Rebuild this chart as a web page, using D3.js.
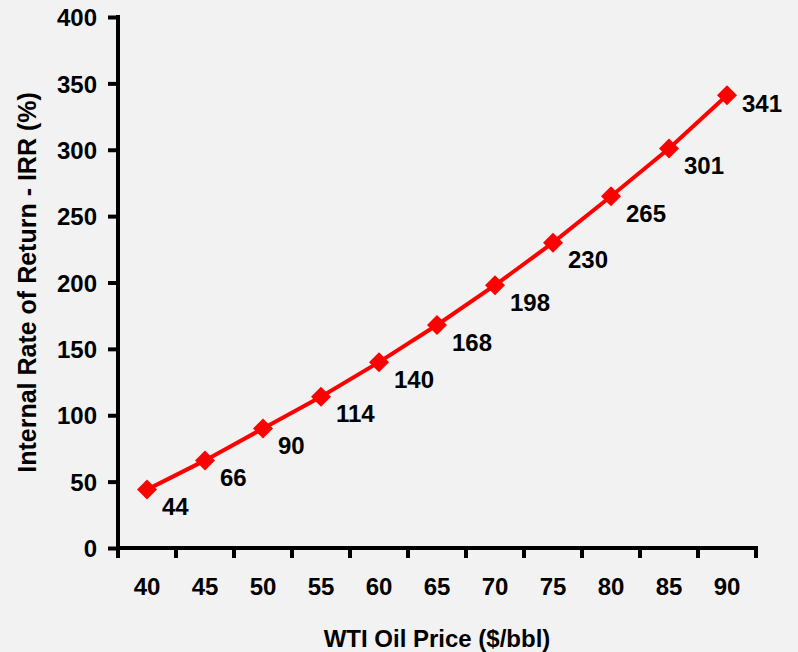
<!DOCTYPE html>
<html>
<head>
<meta charset="utf-8">
<script src="https://cdn.jsdelivr.net/npm/d3@7"></script>
<style>
  html, body { margin: 0; padding: 0; background: #f2f2f2; }
  svg { display: block; }
  text { font-family: "Liberation Sans", Arial, sans-serif; font-weight: bold; fill: #000; }
</style>
</head>
<body>
<svg id="chart" width="798" height="652"></svg>
<script>
const prices = ["40", "45", "50", "55", "60", "65", "70", "75", "80", "85", "90"];
const irr = [44, 66, 90, 114, 140, 168, 198, 230, 265, 301, 341];
const yTicks = [0, 50, 100, 150, 200, 250, 300, 350, 400];
const xTitle = "WTI Oil Price ($/bbl)";
const yTitle = "Internal Rate of Return - IRR (%)";

const W = 798, H = 652;
const margin = { left: 118, right: 42, top: 17, bottom: 104 };
const svg = d3.select("#chart");
const bg = svg.append("rect").attr("width", W).attr("height", H).attr("fill", "#f2f2f2");

const x = d3.scaleBand().domain(prices).range([margin.left, W - margin.right]).padding(0);
const y = d3.scaleLinear().domain([0, 400]).range([H - margin.bottom, margin.top]);

const data = prices.map((p, i) => ({ p, v: irr[i] }));

// Y axis
const yAxis = svg.append("g")
  .attr("transform", `translate(${margin.left},0)`)
  .call(d3.axisLeft(y).tickValues(yTicks).tickSize(10).tickPadding(11).tickSizeOuter(0));
yAxis.select(".domain").remove();
yAxis.selectAll(".tick line").attr("stroke", "#000").attr("stroke-width", 4);
yAxis.selectAll(".tick text").style("font-size", "24px").attr("dy", "0.36em");
yAxis.append("line")
  .attr("x1", 0).attr("x2", 0)
  .attr("y1", y(400) - 2).attr("y2", y(0) + 10)
  .attr("stroke", "#000").attr("stroke-width", 4);

// X axis (ticks between categories)
const xAxis = svg.append("g")
  .attr("transform", `translate(0,${y(0)})`)
  .call(d3.axisBottom(x).tickSize(0).tickPadding(30));
xAxis.select(".domain").remove();
xAxis.selectAll(".tick text").style("font-size", "24px").attr("dy", "0.71em");
const bounds = prices.map(p => x(p)).concat([x(prices[prices.length - 1]) + x.bandwidth()]);
xAxis.append("line")
  .attr("x1", bounds[0] - 2).attr("x2", bounds[bounds.length - 1] + 2)
  .attr("y1", 0).attr("y2", 0)
  .attr("stroke", "#000").attr("stroke-width", 4);
xAxis.selectAll("line.xt").data(bounds).enter().append("line")
  .attr("class", "xt")
  .attr("x1", d => d).attr("x2", d => d)
  .attr("y1", 0).attr("y2", 10)
  .attr("stroke", "#000").attr("stroke-width", 4);

// Line
const cx = d => x(d.p) + x.bandwidth() / 2;
svg.append("path")
  .datum(data)
  .attr("fill", "none")
  .attr("stroke", "#ff0000")
  .attr("stroke-width", 4)
  .attr("d", d3.line().x(cx).y(d => y(d.v)));

// Markers
const sq = d3.symbol().type(d3.symbolSquare).size(200);
svg.selectAll("path.mk").data(data).enter().append("path")
  .attr("class", "mk")
  .attr("d", sq)
  .attr("fill", "#ff0000")
  .attr("transform", d => `translate(${cx(d)},${y(d.v)}) rotate(45)`);

// Data labels
svg.selectAll("text.lbl").data(data).enter().append("text")
  .attr("class", "lbl")
  .attr("x", d => cx(d) + 15)
  .attr("y", (d, i) => y(d.v) + (i === data.length - 1 ? 8 : 17))
  .attr("dy", "0.36em")
  .style("font-size", "24px")
  .text(d => d.v);

// Axis titles
svg.append("text")
  .attr("x", (x.range()[0] + x.range()[1]) / 2)
  .attr("y", 647)
  .attr("text-anchor", "middle")
  .style("font-size", "24px")
  .text(xTitle);

svg.append("text")
  .attr("transform", `translate(36,${(y(0) + y(400)) / 2}) rotate(-90)`)
  .attr("text-anchor", "middle")
  .style("font-size", "25px")
  .text(yTitle);
</script>
</body>
</html>
